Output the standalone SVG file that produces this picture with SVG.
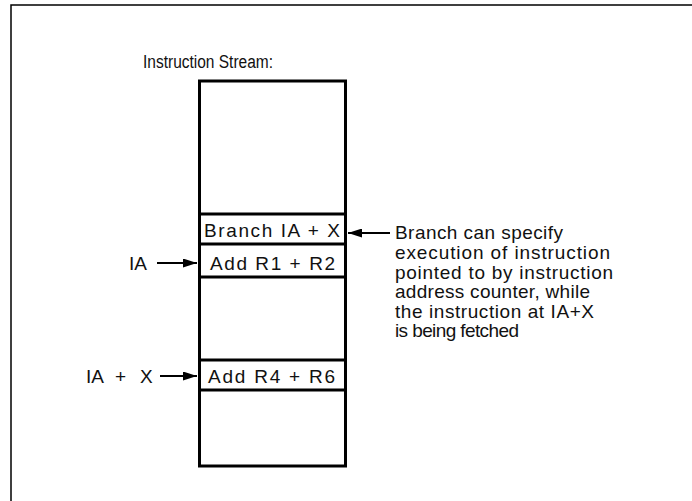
<svg xmlns="http://www.w3.org/2000/svg" width="692" height="501" viewBox="0 0 692 501">
<defs>
<marker id="ah" markerWidth="14" markerHeight="9" refX="14" refY="4.5" orient="auto" markerUnits="userSpaceOnUse">
<path d="M0,0 L14,4.5 L0,9 Z" fill="#000"/>
</marker>
<style>
text{font-family:"Liberation Sans",Arial,sans-serif;font-size:19px;fill:#111}
.cell{fill:#fff;stroke:#000;stroke-width:3}
.conn{stroke:#000;stroke-width:2.2;fill:none}
</style>
</defs>
<rect width="692" height="501" fill="#fff"/>
<g id="frame" stroke="#000" stroke-width="1.5" fill="none">
<path d="M692,5 H11 V501"/>
</g>
<g id="title"><text x="143" y="68" style="font-size:18px" textLength="130" lengthAdjust="spacingAndGlyphs">Instruction Stream:</text></g>
<g id="stream">
<rect class="cell" x="199.5" y="81" width="146" height="385"/>
<line class="cell" x1="199.5" y1="214" x2="345.5" y2="214"/>
<line class="cell" x1="199.5" y1="244" x2="345.5" y2="244"/>
<line class="cell" x1="199.5" y1="277" x2="345.5" y2="277"/>
<line class="cell" x1="199.5" y1="360" x2="345.5" y2="360"/>
<line class="cell" x1="199.5" y1="390" x2="345.5" y2="390"/>
</g>
<g id="branch"><text x="204" y="237" textLength="136" lengthAdjust="spacing">Branch IA + X</text></g>
<g id="add12"><text x="210" y="270" textLength="125" lengthAdjust="spacing">Add R1 + R2</text></g>
<g id="add46"><text x="208" y="383" textLength="127" lengthAdjust="spacing">Add R4 + R6</text></g>
<g id="ia"><text x="129" y="270">IA</text></g>
<g id="iax"><text y="383"><tspan x="86">IA</tspan><tspan x="115">+</tspan><tspan x="140">X</tspan></text></g>
<g id="note">
<text x="395" y="239" textLength="168" lengthAdjust="spacing">Branch can specify</text>
<text x="395" y="259" textLength="215" lengthAdjust="spacing">execution of instruction</text>
<text x="395" y="279" textLength="218" lengthAdjust="spacing">pointed to by instruction</text>
<text x="395" y="298" textLength="195" lengthAdjust="spacing">address counter, while</text>
<text x="395" y="318" textLength="199" lengthAdjust="spacing">the instruction at IA+X</text>
<text x="395" y="337" textLength="124" lengthAdjust="spacing">is being fetched</text>
</g>
<g id="connectors">
<line class="conn" x1="157" y1="263" x2="197" y2="263" marker-end="url(#ah)"/>
<line class="conn" x1="160" y1="376" x2="197" y2="376" marker-end="url(#ah)"/>
<line class="conn" x1="390" y1="233" x2="348" y2="233" marker-end="url(#ah)"/>
</g>
</svg>
